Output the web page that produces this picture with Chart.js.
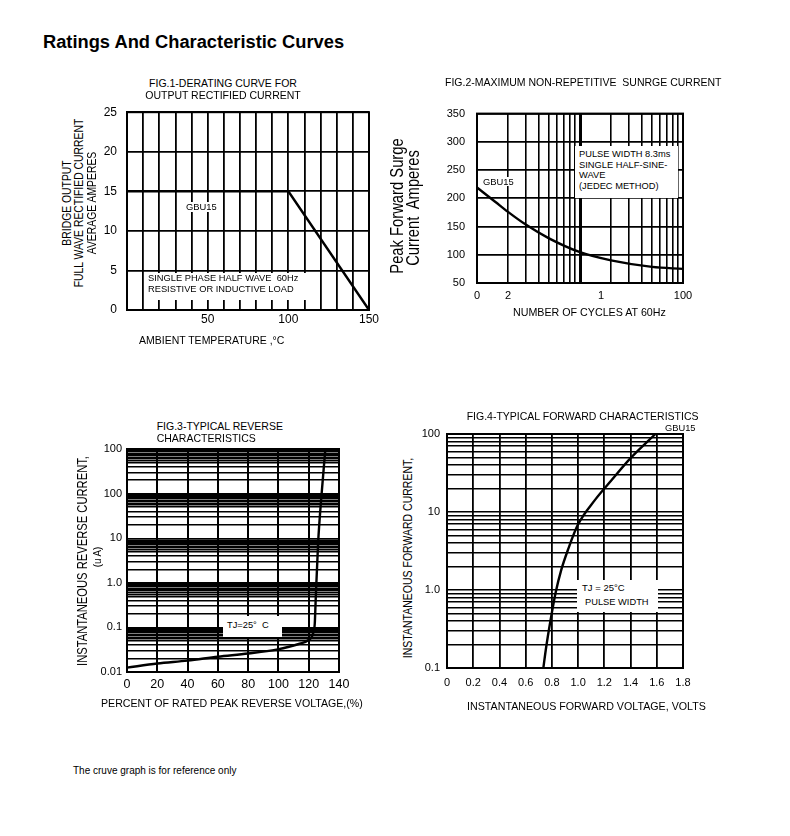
<!DOCTYPE html>
<html>
<head>
<meta charset="utf-8">
<script src="https://cdn.jsdelivr.net/npm/chart.js@4.4.0/dist/chart.umd.min.js"></script>
<style>
  body { margin: 0; background: #fff; }
  #page { position: relative; width: 790px; height: 836px; overflow: hidden;
          font-family: "Liberation Sans", Arial, sans-serif; color: #000; }
  #page canvas { position: absolute; }
  .t { position: absolute; white-space: pre; line-height: 1; }
  .box { position: absolute; background: #fff; }
</style>
</head>
<body>
<div id="page">
  <canvas id="fig1"></canvas>
  <canvas id="fig2"></canvas>
  <canvas id="fig3"></canvas>
  <canvas id="fig4"></canvas>
</div>
<script>
// FIG.1 derating curve
const fig1Temp = [0, 100, 150];
const fig1Current = [15, 15, 0];
const fig1YTicks = [0, 5, 10, 15, 20, 25];
const fig1XLabels = [50, 100, 150];

// FIG.2 surge current (log x)
const fig2Cycles = [1, 1.5, 2, 3, 5, 10, 20, 50, 100];
const fig2Surge = [219, 194, 176, 153, 129, 104.5, 90, 78.5, 75];
const fig2YTicks = [50, 100, 150, 200, 250, 300, 350];
const fig2XTickValues = [1, 2, 16, 100];
const fig2XTickLabels = ['0', '2', '1', '100'];

// FIG.3 reverse characteristics (log y)
const fig3Percent = [0, 20, 40, 60, 80, 98.7, 114, 119.6, 122.9, 124, 124.6, 126.2, 128.4, 131];
const fig3Current = [0.0125, 0.0155, 0.018, 0.022, 0.026, 0.0318, 0.043, 0.0515, 0.073, 0.122, 0.41, 7.7, 89, 1000];
const fig3XTicks = [0, 20, 40, 60, 80, 100, 120, 140];
const fig3YTickValues = [0.01, 0.1, 1, 10, 100, 1000];
const fig3YTickLabels = ['0.01', '0.1', '1.0', '10', '100', '100'];

// FIG.4 forward characteristics (log y)
const fig4Voltage = [0.735, 0.753, 0.794, 0.83, 0.871, 0.922, 0.997, 1.129, 1.256, 1.40, 1.59];
const fig4Current = [0.1, 0.169, 0.45, 0.95, 1.8, 3.26, 6.8, 14.3, 25.7, 49, 100];
const fig4XTickValues = [0, 0.2, 0.4, 0.6, 0.8, 1.0, 1.2, 1.4, 1.6, 1.8];
const fig4XTickLabels = ['0', '0.2', '0.4', '0.6', '0.8', '1.0', '1.2', '1.4', '1.6', '1.8'];
const fig4YTickValues = [0.1, 1, 10, 100];
const fig4YTickLabels = ['0.1', '1.0', '10', '100'];

Chart.defaults.font.family = '"Liberation Sans", Arial, sans-serif';
Chart.defaults.color = '#000';

const page = document.getElementById('page');

// log grid: lines at each step inside each decade
function logGrid(decades, steps, top) {
  const out = [];
  decades.forEach(d => steps.forEach(m => out.push(+(d * m).toPrecision(6))));
  out.push(top);
  return out;
}
function labelFor(v, vals, labels, log) {
  for (let i = 0; i < vals.length; i++) {
    const same = log ? Math.abs(Math.log10(v) - Math.log10(vals[i])) < 1e-6 : Math.abs(v - vals[i]) < 1e-6;
    if (same) return labels[i];
  }
  return '';
}
function axis(type, min, max, gridVals, labVals, labTexts, size, pad, lineWidth, hide) {
  return {
    type, min, max,
    afterBuildTicks: s => { s.ticks = gridVals.map(v => ({ value: v })); },
    ticks: {
      autoSkip: false, maxRotation: 0, padding: pad, color: '#000', font: { size },
      callback: v => labelFor(v, labVals, labTexts, type === 'logarithmic')
    },
    grid: {
      drawTicks: false,
      color: c => (hide && c.tick && hide(c.tick.value)) ? 'rgba(0,0,0,0)' : '#000',
      lineWidth: lineWidth
    },
    border: { display: true, color: '#000', width: 2 }
  };
}

const frame = {
  id: 'frame',
  afterDatasetsDraw(chart) {
    const a = chart.chartArea, c = chart.ctx;
    c.save();
    c.lineWidth = 2;
    c.strokeStyle = '#000';
    c.strokeRect(a.left, a.top, a.right - a.left, a.bottom - a.top);
    c.restore();
  }
};

const AXH = 22;
function makeChart(id, rect, area, xs, ys, xVals, yVals, smooth) {
  const cv = document.getElementById(id);
  cv.width = rect.w; cv.height = rect.h;
  cv.style.left = rect.x + 'px'; cv.style.top = rect.y + 'px';
  cv.style.width = rect.w + 'px'; cv.style.height = rect.h + 'px';
  xs.afterFit = s => { s.height = AXH; };
  ys.afterFit = s => { s.width = area.l - rect.x; };
  return new Chart(cv, {
    type: 'line',
    data: {
      datasets: [{
        data: xVals.map((x, i) => ({ x, y: yVals[i] })),
        borderColor: '#000',
        borderWidth: 2.4,
        pointRadius: 0,
        fill: false,
        cubicInterpolationMode: smooth ? 'monotone' : 'default',
        tension: 0
      }]
    },
    options: {
      responsive: false,
      animation: false,
      events: [],
      layout: { padding: {
        left: 0,
        top: area.t - rect.y,
        right: rect.x + rect.w - area.r,
        bottom: rect.y + rect.h - area.b - AXH
      } },
      plugins: { legend: { display: false }, tooltip: { enabled: false } },
      scales: { x: xs, y: ys }
    },
    plugins: [frame]
  });
}

// FIG.1
makeChart('fig1', { x: 90, y: 95, w: 300, h: 250 }, { l: 127, t: 108, r: 369, b: 310 },
  axis('linear', 0, 150, [0,10,20,30,40,50,60,70,80,90,100,110,120,130,140,150],
       fig1XLabels, fig1XLabels.map(String), 12, 2, 1.8),
  axis('linear', 0, 25, fig1YTicks, fig1YTicks, fig1YTicks.map(String), 12, 10, 1.8),
  fig1Temp, fig1Current, false);

// FIG.2
makeChart('fig2', { x: 440, y: 95, w: 270, h: 230 }, { l: 477, t: 109, r: 683, b: 283 },
  (() => {
    const a = axis('logarithmic', 1, 100, logGrid([1, 10], [1,2,3,4,5,6,7,8,9], 100).concat([16]),
                   fig2XTickValues, fig2XTickLabels, 11, 6, 1.6, v => v === 16);
    a.grid.lineWidth = c => (c.tick && c.tick.value === 10) ? 3 : 1.6;
    return a;
  })(),
  axis('linear', 50, 350, fig2YTicks, fig2YTicks, fig2YTicks.map(String), 11, 12, 1.8),
  fig2Cycles, fig2Surge, true);

// FIG.3
makeChart('fig3', { x: 95, y: 435, w: 270, h: 265 }, { l: 127, t: 449, r: 339, b: 672 },
  axis('linear', 0, 140, fig3XTicks, fig3XTicks, fig3XTicks.map(String), 12.5, 5, 2),
  axis('logarithmic', 0.01, 1000,
       logGrid([0.01, 0.1, 1, 10, 100], [1,2,3,4,5,5.5,6,6.5,7,7.5,8,8.5,9,9.5], 1000),
       fig3YTickValues, fig3YTickLabels, 11, 5, 1.4),
  fig3Percent, fig3Current, true);

// FIG.4
makeChart('fig4', { x: 415, y: 420, w: 290, h: 280 }, { l: 447, t: 434, r: 683, b: 668 },
  axis('linear', 0, 1.8, fig4XTickValues, fig4XTickValues, fig4XTickLabels, 11, 8, 1.8),
  axis('logarithmic', 0.1, 100, logGrid([0.1, 1, 10], [1,2,3,4,5,6,7,8,9], 100),
       fig4YTickValues, fig4YTickLabels, 11, 7, 1.6),
  fig4Voltage, fig4Current, true);

// ---- text ----
function box(x, y, w, h) {
  const d = document.createElement('div');
  d.className = 'box';
  Object.assign(d.style, { left: x + 'px', top: y + 'px', width: w + 'px', height: h + 'px' });
  page.appendChild(d);
}
function text(str, x, cy, size, opt) {
  opt = opt || {};
  const d = document.createElement('div');
  d.className = 't';
  d.textContent = str;
  d.style.fontSize = size + 'px';
  d.style.left = x + 'px';
  d.style.top = (cy - 0.49 * size) + 'px';
  if (opt.bold) d.style.fontWeight = 'bold';
  if (opt.center) d.style.transform = 'translateX(-50%)';
  if (opt.bg) d.style.background = '#fff';
  page.appendChild(d);
}
function vtext(str, cx, cy, size, squeeze) {
  const d = document.createElement('div');
  d.className = 't';
  d.textContent = str;
  d.style.fontSize = size + 'px';
  d.style.left = cx + 'px';
  d.style.top = cy + 'px';
  d.style.transform = 'translate(-50%,-50%) rotate(-90deg) scaleX(' + squeeze + ')';
  page.appendChild(d);
}

text('Ratings And Characteristic Curves', 43, 42, 18.3, { bold: true });
text('The cruve graph is for reference only', 73, 770.5, 10);

// fig1 texts
text('FIG.1-DERATING CURVE FOR', 223, 83.3, 10.5, { center: true });
text('OUTPUT RECTIFIED CURRENT', 223, 95, 10.5, { center: true });
vtext('BRIDGE OUTPUT', 66.5, 203, 12.5, 0.83);
vtext('FULL WAVE RECTIFIED CURRENT', 79, 203, 12.5, 0.83);
vtext('AVERAGE AMPERES', 91.5, 203, 12.5, 0.83);
text('AMBIENT TEMPERATURE ,°C', 139, 340, 10.5);
text('GBU15', 186, 206.7, 9.4, { bg: true });
box(145, 273, 162, 27);
text('SINGLE PHASE HALF WAVE  60Hz', 148, 279, 9.3);
text('RESISTIVE OR INDUCTIVE LOAD', 148, 290, 9.3);

// fig2 texts
text('FIG.2-MAXIMUM NON-REPETITIVE  SUNRGE CURRENT', 445, 81.7, 10.5);
vtext('Peak Forward Surge', 396.5, 205.5, 18, 0.82);
vtext('Current  Amperes', 413, 207.5, 18, 0.82);
text('NUMBER OF CYCLES AT 60Hz', 513, 312, 10.7);
text('GBU15', 483, 181.5, 9.4, { bg: true });
box(575, 146, 103, 52);
text('PULSE WIDTH 8.3ms', 579, 155, 9.3);
text('SINGLE HALF-SINE-', 579, 165.5, 9.3);
text('WAVE', 579, 176, 9.3);
text('(JEDEC METHOD)', 579, 186.7, 9.3);

// fig3 texts
text('FIG.3-TYPICAL REVERSE', 156.7, 425.7, 10.5);
text('CHARACTERISTICS', 156.7, 437.7, 10.5);
vtext('INSTANTANEOUS REVERSE CURRENT,', 81.7, 561, 14, 0.8);
vtext('(u A)', 97.5, 557, 11.5, 0.85);
text('PERCENT OF RATED PEAK REVERSE VOLTAGE,(%)', 101, 703, 10.6);
box(223, 616, 59, 21);
text('TJ=25°  C', 227, 626, 9.3);

// fig4 texts
text('FIG.4-TYPICAL FORWARD CHARACTERISTICS', 466.7, 415.7, 10.5);
vtext('INSTANTANEOUS FORWARD CURRENT,', 408, 558, 12.5, 0.84);
text('INSTANTANEOUS FORWARD VOLTAGE, VOLTS', 467, 706.7, 10.7);
text('GBU15', 665, 429, 9.3);
box(577, 580, 81, 32);
text('TJ = 25°C', 582, 587.7, 9.5);
text('PULSE WIDTH', 585, 602.7, 9.3);
</script>
</body>
</html>
